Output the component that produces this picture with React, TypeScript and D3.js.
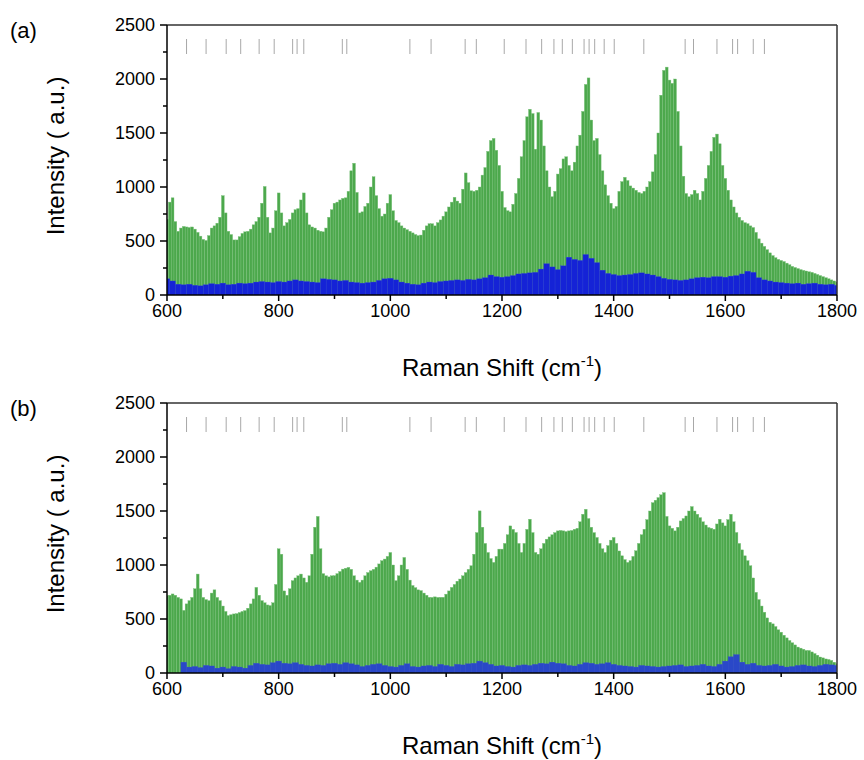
import React from "react";
import * as d3 from "d3";

// wavenumber grid: green every 5 cm-1, blue every 10 cm-1, 600..1800
const greenA = [
  700, 860, 900, 680, 590, 620, 635, 630, 625, 630,
  610, 580, 545, 515, 505, 550, 620, 640, 665, 720,
  920, 760, 590, 560, 510, 510, 540, 570, 585, 590,
  610, 650, 680, 720, 850, 1005, 720, 575, 620, 780,
  945, 760, 640, 670, 700, 760, 790, 800, 880, 945,
  760, 650, 630, 620, 600, 590, 585, 620, 720, 790,
  850, 860, 880, 895, 900, 960, 1150, 1220, 950, 760,
  770, 820, 850, 1000, 1095, 920, 800, 730, 750, 850,
  930, 780, 690, 670, 640, 620, 605, 590, 575, 560,
  550, 555, 600, 640, 660, 660, 640, 670, 695, 730,
  770, 815, 860, 905, 870, 850, 980, 1130, 1040, 965,
  960, 970, 1000, 1110, 1180, 1330, 1430, 1450, 1340, 1200,
  960, 810, 780, 770, 840, 940, 1080, 1280, 1430, 1650,
  1720, 1680, 1350, 1690, 1620, 1380, 1150, 1000, 910, 960,
  1120, 1170, 1260, 1280, 1200, 1150, 1230, 1380, 1480, 1700,
  1950, 2010, 1620, 1430, 1450, 1300, 1150, 1020, 920, 850,
  800, 820, 960, 1050, 1090, 1060, 1010, 990, 970, 950,
  940, 960, 1000, 1050, 1140, 1300, 1500, 1850, 2080, 2110,
  1990, 1960, 2000, 1700, 1380, 1100, 940, 910, 930, 970,
  940, 880, 960, 1080, 1200, 1330, 1460, 1490, 1400, 1200,
  1080, 970, 880, 815, 760, 720, 690, 670, 660, 640,
  625, 580, 520, 480, 450, 420, 390, 365, 345, 330,
  320, 310, 295, 280, 265, 255, 245, 235, 228, 222,
  215, 210, 200, 190, 180, 170, 160, 150, 140, 130,
  120,
];

const blueA = [
  150, 130, 100, 95, 100, 90, 85, 95, 105, 100,
  110, 95, 100, 110, 105, 110, 120, 125, 120, 115,
  125, 120, 130, 140, 130, 125, 120, 115, 150, 145,
  140, 130, 135, 120, 115, 110, 115, 120, 135, 150,
  155, 140, 120, 110, 100, 95, 110, 120, 115, 125,
  130, 135, 140, 135, 145, 140, 150, 160, 185, 170,
  165, 170, 180, 195, 200, 205, 210, 240, 290, 260,
  235, 270, 350, 330, 320, 375, 340, 300, 230, 200,
  190, 180, 185, 190, 200, 205, 195, 185, 170, 155,
  145, 140, 135, 140, 150, 160, 165, 160, 170, 170,
  165, 175, 180, 195, 220, 210, 160, 140, 130, 120,
  115, 110, 105, 110, 100, 105, 110, 100, 95, 100,
  90,
];

const greenB = [
  716, 720, 732, 720, 700, 686, 580, 640, 670, 700,
  780, 916, 780, 700, 680, 670, 740, 770, 700, 670,
  620, 570, 532, 540, 547, 550, 560, 570, 578, 600,
  640, 686, 793, 720, 670, 650, 630, 624, 650, 820,
  1150, 1100, 760, 720, 780, 855, 880, 900, 916, 880,
  840, 900, 1100, 1350, 1450, 1150, 920, 900, 890, 900,
  901, 920, 940, 962, 970, 978, 960, 900, 860, 839,
  860, 900, 930, 947, 960, 980, 1010, 1040, 1055, 1080,
  1116, 1000, 855, 900, 1000, 1070, 960, 860, 810, 790,
  770, 763, 740, 720, 701, 700, 705, 700, 701, 701,
  730, 760, 793, 820, 850, 870, 900, 930, 960, 993,
  1100, 1300, 1501, 1350, 1200, 1116, 1060, 1024, 1080, 1147,
  1147, 1200, 1280, 1362, 1330, 1301, 1200, 1116, 1200, 1330,
  1424, 1300, 1116, 1100, 1150, 1200, 1239, 1260, 1280, 1300,
  1316, 1320, 1316, 1310, 1316, 1320, 1331, 1340, 1400, 1470,
  1516, 1430, 1350, 1300, 1255, 1200, 1150, 1116, 1180, 1230,
  1255, 1200, 1130, 1085, 1050, 1024, 1040, 1080, 1132, 1200,
  1280, 1331, 1420, 1500, 1577, 1600, 1624, 1650, 1670, 1450,
  1362, 1340, 1316, 1350, 1408, 1430, 1454, 1500, 1541, 1500,
  1470, 1439, 1400, 1370, 1347, 1340, 1331, 1380, 1424, 1390,
  1362, 1420, 1470, 1400, 1301, 1200, 1140, 1085, 1040, 993,
  880, 747, 680, 620, 563, 510, 470, 455, 430, 400,
  378, 350, 325, 301, 280, 260, 240, 230, 220, 209,
  209, 195, 180, 165, 148, 140, 130, 125, 117, 100,
  86,
];

const blueB = [
  0, 0, 0, 100, 55, 60, 50, 70, 65, 45,
  55, 40, 60, 55, 45, 70, 90, 80, 75, 95,
  110, 90, 85, 95, 80, 70, 65, 75, 70, 85,
  90, 80, 95, 85, 75, 60, 70, 80, 85, 70,
  60, 55, 70, 85, 60, 55, 65, 70, 60, 80,
  70, 60, 80, 75, 85, 90, 110, 95, 80, 65,
  70, 60, 55, 70, 75, 70, 80, 90, 85, 100,
  90, 85, 70, 65, 80, 95, 90, 80, 85, 95,
  80, 70, 65, 60, 55, 70, 65, 60, 55, 60,
  65, 70, 75, 60, 65, 70, 80, 65, 60, 80,
  110, 150, 170, 100, 80, 90, 70, 65, 70, 80,
  65, 55, 60, 70, 75, 65, 60, 70, 80, 75,
  70,
];

// reference band positions (cm-1)
const bandLines = [
  635, 670, 706, 732, 765, 792, 825, 833, 845, 914, 922, 1035, 1073, 1134,
  1154, 1204, 1243, 1271, 1293, 1308, 1326, 1347, 1356, 1366, 1383, 1401,
  1454, 1528, 1543, 1585, 1613, 1622, 1650, 1670,
];

const xTicks = [600, 800, 1000, 1200, 1400, 1600, 1800];
const yTicks = [0, 500, 1000, 1500, 2000, 2500];

const GREEN = "#4ca84c";
const FONT = "Liberation Sans, Arial, sans-serif";

const x0 = 167;
const x1 = 837;
const plotH = 270;

function Panel({ top, label, green, blue, blueColor, id }) {
  const x = d3.scaleLinear().domain([600, 1800]).range([x0, x1]);
  const y = d3.scaleLinear().domain([0, 2500]).range([top + plotH, top]);
  const gStep = 5;
  const bStep = 10;
  const gw = x(600 + gStep) - x(600);
  const bw = x(600 + bStep) - x(600);
  const yb = top + plotH;
  const minorX = d3.range(700, 1800, 200);
  const minorY = d3.range(250, 2500, 500);

  return (
    <g>
      <defs>
        <clipPath id={id}>
          <rect x={x0} y={top} width={x1 - x0} height={plotH} />
        </clipPath>
      </defs>
      <g clipPath={`url(#${id})`}>
        {green.map((v, i) => (
          <rect
            key={"g" + i}
            x={x(600 + i * gStep) - gw / 2}
            y={y(v)}
            width={gw}
            height={yb - y(v)}
            fill={GREEN}
            stroke="#7cc27c"
            strokeWidth={0.4}
          />
        ))}
        {blue.map((v, i) => (
          <rect
            key={"b" + i}
            x={x(600 + i * bStep) - bw / 2}
            y={y(v)}
            width={bw}
            height={yb - y(v)}
            fill={blueColor}
            stroke="#3a48e0"
            strokeWidth={0.3}
          />
        ))}
      </g>
      {bandLines.map((b) => (
        <line
          key={b}
          x1={x(b)}
          x2={x(b)}
          y1={top + 14}
          y2={top + 29}
          stroke="#a8a8a8"
          strokeWidth={1}
        />
      ))}
      {/* frame */}
      <line x1={x0} x2={x1} y1={top} y2={top} stroke="#333" strokeWidth={1.5} />
      <line x1={x1} x2={x1} y1={top} y2={yb} stroke="#333" strokeWidth={1.5} />
      <line x1={x0} x2={x0} y1={top} y2={yb} stroke="#000" strokeWidth={1.5} />
      <line x1={x0} x2={x1} y1={yb} y2={yb} stroke="#000" strokeWidth={1.5} />
      {/* x ticks */}
      {xTicks.map((t) => (
        <g key={"xt" + t}>
          <line x1={x(t)} x2={x(t)} y1={yb} y2={yb + 6} stroke="#000" strokeWidth={1.5} />
          <text x={x(t)} y={yb + 22} textAnchor="middle" fontSize={18} fontFamily={FONT}>
            {t}
          </text>
        </g>
      ))}
      {minorX.map((t) => (
        <line key={"mx" + t} x1={x(t)} x2={x(t)} y1={yb} y2={yb + 4} stroke="#000" strokeWidth={1.5} />
      ))}
      {/* y ticks */}
      {yTicks.map((t) => (
        <g key={"yt" + t}>
          <line x1={x0 - 7} x2={x0} y1={y(t)} y2={y(t)} stroke="#000" strokeWidth={1.5} />
          <text x={x0 - 12} y={y(t) + 6} textAnchor="end" fontSize={18} fontFamily={FONT}>
            {t}
          </text>
        </g>
      ))}
      {minorY.map((t) => (
        <line key={"my" + t} x1={x0 - 4} x2={x0} y1={y(t)} y2={y(t)} stroke="#000" strokeWidth={1.5} />
      ))}
      <text
        transform={`translate(64,${top + 131}) rotate(-90)`}
        textAnchor="middle"
        fontSize={24}
        fontFamily={FONT}
      >
        Intensity ( a.u.)
      </text>
      <text x={(x0 + x1) / 2} y={yb + 81} textAnchor="middle" fontSize={24} fontFamily={FONT}>
        Raman Shift (cm
        <tspan fontSize={15} dy={-10}>-1</tspan>
        <tspan dy={10}>)</tspan>
      </text>
      <text x={10} y={top + 13} fontSize={22} fontFamily={FONT}>
        {label}
      </text>
    </g>
  );
}

export default function App() {
  return (
    <svg
      width={864}
      height={760}
      style={{ position: "absolute", left: 0, top: 0, background: "#fff" }}
    >
      <Panel top={25} label="(a)" green={greenA} blue={blueA} blueColor="#1523d6" id="clipA" />
      <Panel top={403} label="(b)" green={greenB} blue={blueB} blueColor="#2a48c8" id="clipB" />
    </svg>
  );
}
